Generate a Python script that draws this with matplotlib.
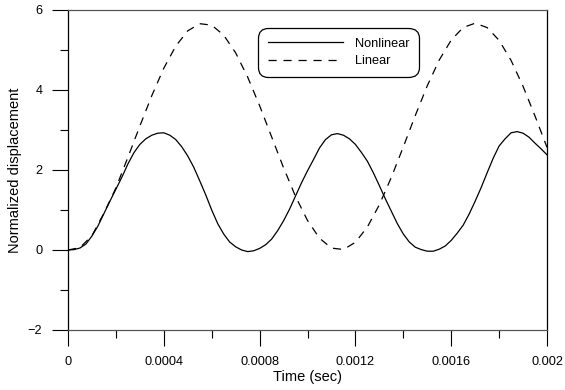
import numpy as np
import matplotlib
matplotlib.use("Agg")
import matplotlib.pyplot as plt

plt.rcParams['font.family'] = ['Liberation Sans', 'DejaVu Sans']

# time axis (sec)
t_nonlin = np.arange(81) * 0.000025
t_lin = np.arange(41) * 0.00005

# normalized displacement
nonlinear = [0.00, 0.01, 0.05, 0.15, 0.35, 0.60, 0.91, 1.22, 1.52, 1.82,
             2.15, 2.43, 2.64, 2.78, 2.87, 2.92, 2.93, 2.87, 2.76, 2.58,
             2.35, 2.07, 1.73, 1.38, 1.00, 0.66, 0.40, 0.20, 0.08, 0.00,
             -0.04, -0.02, 0.04, 0.13, 0.27, 0.48, 0.73, 1.02, 1.35, 1.68,
             1.98, 2.26, 2.55, 2.76, 2.88, 2.91, 2.87, 2.78, 2.64, 2.44,
             2.22, 1.93, 1.61, 1.28, 0.97, 0.66, 0.40, 0.20, 0.07, 0.01,
             -0.03, -0.03, 0.02, 0.10, 0.24, 0.42, 0.62, 0.90, 1.22, 1.56,
             1.93, 2.29, 2.60, 2.78, 2.93, 2.96, 2.92, 2.82, 2.67, 2.53,
             2.38]
linear = [0.00, 0.06, 0.36, 0.92, 1.55, 2.315, 3.098, 3.860, 4.545, 5.098,
          5.479, 5.658, 5.621, 5.372, 4.929, 4.325, 3.608, 2.832, 2.056, 1.340,
          0.738, 0.296, 0.048, 0.012, 0.193, 0.575, 1.130, 1.815, 2.578, 3.361,
          4.104, 4.749, 5.248, 5.563, 5.670, 5.560, 5.242, 4.740, 4.092, 3.349,
          2.566]

xticks = [0, 0.0004, 0.0008, 0.0012, 0.0016, 0.002]
xticklabels = ['0', '0.0004', '0.0008', '0.0012', '0.0016', '0.002']
yticks = [-2, 0, 2, 4, 6]

fig = plt.figure(figsize=(5.65, 3.9), dpi=100)
ax = fig.add_axes([68 / 565, 60 / 390, 479 / 565, 320 / 390])

ax.plot(t_nonlin, nonlinear, color='black', lw=0.9, label='Nonlinear')
ax.plot(t_lin, linear, color='black', lw=0.9, dashes=[6.5, 5.5], label='Linear')

ax.set_xlim(0, 0.002)
ax.set_ylim(-2, 6)
ax.set_xticks(xticks)
ax.set_xticklabels(xticklabels)
ax.set_xticks([0.0002, 0.0006, 0.0010, 0.0014, 0.0018], minor=True)
ax.set_yticks(yticks)
ax.set_yticks([-1, 1, 3, 5], minor=True)
ax.tick_params(which='major', direction='out', length=11.5, width=0.8,
               labelsize=9.2, pad=7)
ax.tick_params(which='minor', direction='out', length=5.8, width=0.8)

for side in ['left', 'right']:
    ax.spines[side].set_color('black')
    ax.spines[side].set_linewidth(0.9)
for side in ['top', 'bottom']:
    ax.spines[side].set_color('#555555')
    ax.spines[side].set_linewidth(0.9)

ax.set_xlabel('Time (sec)', fontsize=10.5, labelpad=1.5)
ax.set_ylabel('Normalized displacement', fontsize=10.5, labelpad=4)

leg = ax.legend(loc='upper left', bbox_to_anchor=(0.397, 0.944),
                borderaxespad=0, fontsize=9.2, handlelength=5.9,
                handletextpad=0.9, labelspacing=0.45, borderpad=0.75,
                fancybox=True, framealpha=1, edgecolor='black')
leg.get_frame().set_linewidth(0.9)
leg.get_frame().set_boxstyle('round', pad=0.0, rounding_size=0.8)

fig.savefig('out.png', dpi=100)
